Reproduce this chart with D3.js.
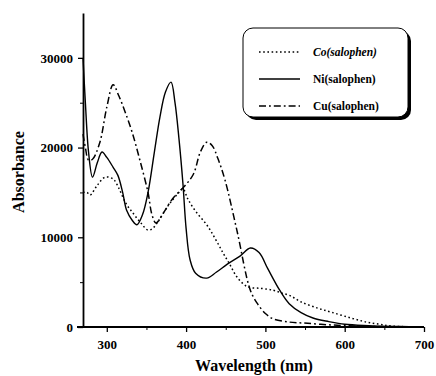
<!DOCTYPE html>
<html>
<head>
<meta charset="utf-8">
<script src="https://cdn.jsdelivr.net/npm/d3@7"></script>
<style>
  body { margin: 0; background: #fff; }
  svg text { font-family: "Liberation Serif", "DejaVu Serif", serif !important; font-weight: bold; }
</style>
</head>
<body>
<div id="chart"></div>
<script>
// absorption spectra
const coWl  = [270, 275, 279, 288, 298, 308, 315, 324, 333, 343, 352, 358, 365, 378, 390, 396, 402, 412, 426, 437, 447, 455, 464, 477, 495, 510, 520, 531, 545, 566, 585, 608, 625, 642, 660, 700];
const coAbs = [15000, 15000, 14700, 15800, 16700, 16500, 15500, 13800, 12700, 11600, 10800, 11000, 11800, 13600, 14900, 15400, 14300, 12900, 11400, 9800, 8200, 7000, 5600, 4500, 4300, 4100, 3800, 3500, 2800, 2100, 1600, 1000, 600, 330, 100, 0];

const niWl  = [270, 273, 277, 282, 288, 294, 300, 308, 314, 320, 325, 332, 338, 345, 352, 360, 367, 374, 381, 386, 391, 396, 400, 405, 412, 426, 438, 452, 468, 481, 492, 503, 518, 530, 545, 560, 580, 600, 630, 670, 700];
const niAbs = [30000, 25000, 19500, 16700, 18300, 19500, 18900, 17800, 16900, 15000, 13000, 11900, 11400, 12500, 15000, 19500, 23400, 26200, 27300, 25000, 21000, 16000, 11000, 7500, 6000, 5450, 6100, 7000, 7900, 8800, 8300, 6500, 4100, 2600, 1600, 1000, 600, 300, 150, 50, 0];

const cuWl  = [270, 273, 277, 282, 291, 300, 308, 315, 323, 332, 342, 352, 357, 362, 372, 383, 397, 409, 418, 426, 433, 440, 449, 464, 481, 490, 500, 510, 530, 547, 570, 600, 650, 700];
const cuAbs = [21500, 20000, 18600, 18700, 20500, 24500, 27000, 25800, 24000, 21700, 18500, 15000, 12500, 11600, 12800, 14300, 15600, 17000, 19500, 20600, 20200, 18800, 16400, 10800, 4100, 2600, 1500, 900, 550, 450, 300, 150, 30, 0];

const seriesNames = ["Co(salophen)", "Ni(salophen)", "Cu(salophen)"];
const xTicks = [300, 400, 500, 600, 700];
const xMinorTicks = [350, 450, 550, 650];
const yTicks = [0, 10000, 20000, 30000];
const yMinorTicks = [5000, 15000, 25000];

const w = 436, h = 376;
const font = "'Liberation Serif', 'DejaVu Serif', serif";

const svg = d3.select("#chart").append("svg")
    .attr("width", w)
    .attr("height", h);

const x = d3.scaleLinear().domain([270, 700]).range([83, 424]);
const y = d3.scaleLinear().domain([0, 35000]).range([327, 13]);

const zip = (a, b) => a.map((v, i) => [v, b[i]]);
const series = [
    { name: seriesNames[0], pts: zip(coWl, coAbs), dash: "1.6,2.6" },
    { name: seriesNames[1], pts: zip(niWl, niAbs), dash: null },
    { name: seriesNames[2], pts: zip(cuWl, cuAbs), dash: "7,3,1.8,3" }
];

const line = d3.line()
    .x(d => x(d[0]))
    .y(d => y(d[1]))
    .curve(d3.curveCatmullRom.alpha(0.5));

// curves
series.forEach(s => {
    svg.append("path")
        .datum(s.pts)
        .attr("fill", "none")
        .attr("stroke", "#000")
        .attr("stroke-width", s.dash ? 1.5 : 1.4)
        .attr("stroke-dasharray", s.dash)
        .attr("d", line);
});

// x axis
const xAxis = svg.append("g")
    .attr("transform", "translate(0," + y(0) + ")")
    .call(d3.axisBottom(x).tickValues(xTicks).tickSize(5).tickSizeOuter(0).tickFormat(d3.format("d")));
xAxis.select(".domain").remove();
xAxis.attr("font-family", font);
xAxis.selectAll("text").attr("font-size", 13).attr("dy", "1.05em");
xAxis.selectAll("line").attr("stroke-width", 1.3);
svg.append("line")
    .attr("x1", 77).attr("x2", x(700))
    .attr("y1", y(0)).attr("y2", y(0))
    .attr("stroke", "#000").attr("stroke-width", 1.8);
svg.append("g")
    .attr("transform", "translate(0," + y(0) + ")")
    .call(d3.axisBottom(x).tickValues(xMinorTicks).tickSize(3).tickFormat(""))
    .select(".domain").remove();

// y axis
const yAxis = svg.append("g")
    .attr("transform", "translate(" + x(270) + ",0)")
    .call(d3.axisLeft(y).tickValues(yTicks).tickSize(5).tickSizeOuter(0).tickFormat(d3.format("d")));
yAxis.attr("font-family", font);
yAxis.select(".domain").attr("stroke-width", 1.8);
yAxis.selectAll("text").attr("font-size", 13).attr("dx", "-0.15em");
yAxis.selectAll("line").attr("stroke-width", 1.3);
svg.append("g")
    .attr("transform", "translate(" + x(270) + ",0)")
    .call(d3.axisLeft(y).tickValues(yMinorTicks).tickSize(3).tickFormat(""))
    .select(".domain").remove();

// axis titles
svg.append("text")
    .attr("transform", "translate(24,172) rotate(-90)")
    .attr("text-anchor", "middle")
    .attr("font-size", 16)
    .text("Absorbance");
svg.append("text")
    .attr("x", 254).attr("y", 371)
    .attr("text-anchor", "middle")
    .attr("font-size", 16)
    .text("Wavelength (nm)");

// legend box with shadow
const lg = svg.append("g");
lg.append("rect")
    .attr("x", 246).attr("y", 31).attr("width", 165).attr("height", 89)
    .attr("rx", 10).attr("fill", "#000");
lg.append("rect")
    .attr("x", 243).attr("y", 28).attr("width", 165).attr("height", 89)
    .attr("rx", 10).attr("fill", "#fff").attr("stroke", "#000").attr("stroke-width", 1);

const rowY = [52, 79, 106];
series.forEach((s, i) => {
    lg.append("line")
        .attr("x1", 259).attr("x2", 300)
        .attr("y1", rowY[i]).attr("y2", rowY[i])
        .attr("stroke", "#000").attr("stroke-width", 1.5)
        .attr("stroke-dasharray", s.dash);
    lg.append("text")
        .attr("x", 313).attr("y", rowY[i] + 4)
        .attr("font-size", 11.5)
        .attr("font-style", i === 0 ? "italic" : null)
        .text(s.name);
});
</script>
</body>
</html>
